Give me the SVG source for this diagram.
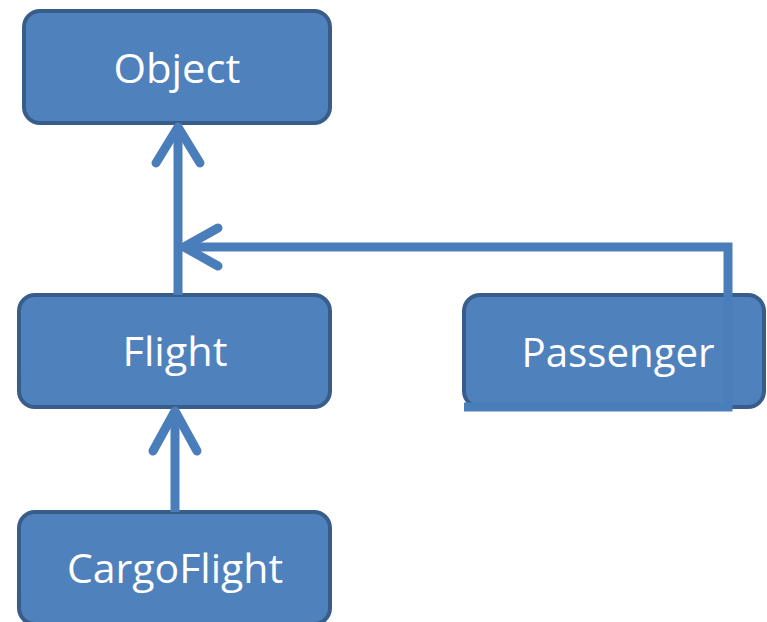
<svg xmlns="http://www.w3.org/2000/svg" width="767" height="622" viewBox="0 0 767 622">
<style>
.box{fill:#4F81BD;stroke:#385D8A;stroke-width:4}
.lbl{fill:#FFFFFF;font-family:"Open Sans","Liberation Sans",sans-serif;font-size:40px;text-anchor:middle}
.con{fill:none;stroke:#4A7EBB;stroke-width:9;stroke-linecap:round;stroke-linejoin:round}
.conb{fill:none;stroke:#4A7EBB;stroke-width:9;stroke-linecap:butt}
</style>
<rect width="767" height="622" fill="#FFFFFF"/>
<g id="Object"><rect class="box" x="24" y="11" width="306" height="112" rx="16"/><text class="lbl" x="177" y="83" textLength="127" lengthAdjust="spacingAndGlyphs">Object</text></g>
<g id="Flight"><rect class="box" x="19" y="295" width="311" height="112" rx="16"/><text class="lbl" x="175" y="366" textLength="105" lengthAdjust="spacingAndGlyphs">Flight</text></g>
<g id="Passenger"><rect class="box" x="464" y="295" width="300" height="112" rx="16"/><text class="lbl" x="618" y="367" textLength="193" lengthAdjust="spacingAndGlyphs">Passenger</text></g>
<g id="CargoFlight"><rect class="box" x="19" y="512" width="311" height="112" rx="16"/><text class="lbl" x="175" y="583" textLength="216" lengthAdjust="spacingAndGlyphs">CargoFlight</text></g>
<g id="connectors">
<path class="conb" d="M178 295 V128"/>
<path class="con" d="M156 163 L178 127 L200 163"/>
<path class="conb" d="M464 407 H728 V247 H185"/>
<path class="con" d="M218 228 L184 247 L218 266"/>
<path class="conb" d="M175 512 V411"/>
<path class="con" d="M153 451 L175 411 L197 451"/>
</g>
</svg>
